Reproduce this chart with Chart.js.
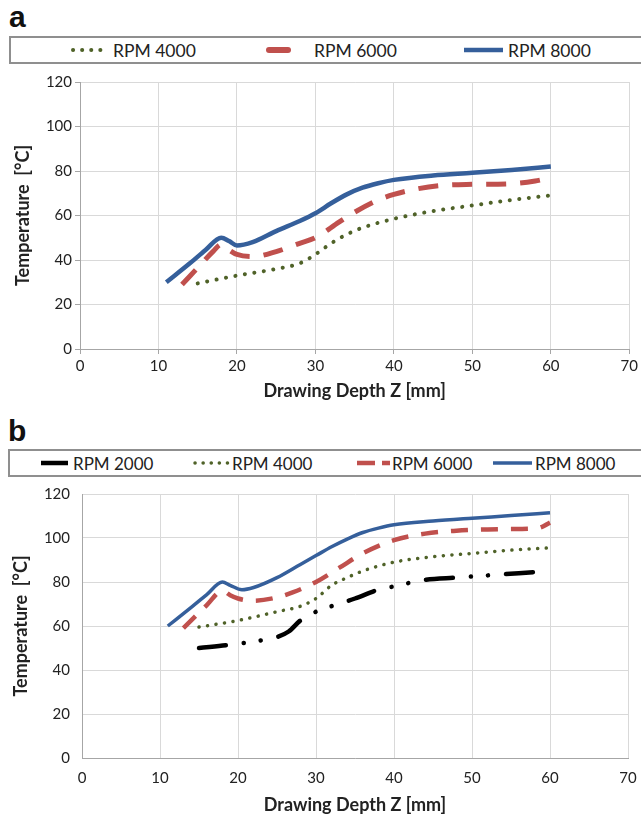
<!DOCTYPE html>
<html>
<head>
<meta charset="utf-8">
<script src="https://cdn.jsdelivr.net/npm/chart.js@4/dist/chart.umd.min.js"></script>
<style>
  html, body { margin: 0; padding: 0; background: #fff; }
  body { width: 641px; height: 817px; position: relative; overflow: hidden; font-family: Lato, sans-serif; }
  .panel-label { position: absolute; font: bold 30px "Liberation Sans", Arial, sans-serif; color: #111; }
  .legend { position: absolute; height: 28px; border: 2px solid #8f8f8f; box-sizing: border-box; width: 660px; }
  .item { position: absolute; top: 0; height: 100%; display: flex; align-items: center; color: #222; white-space: nowrap; }
  .wrap { position: absolute; left: 0; width: 641px; }
</style>
</head>
<body>
<div class="panel-label" style="left:9px; top:0px;">a</div>
<div class="legend" style="left:9px; top:36px; font-size:17.5px;">
  <div class="item" style="left:59px;"><svg width="38" height="8" style="margin-right:5px"><line x1="3" y1="4" x2="37" y2="4" stroke="#4f6228" stroke-width="4" stroke-linecap="round" stroke-dasharray="0.1 9"/></svg>RPM 4000</div>
  <div class="item" style="left:255px;"><svg width="43" height="8" style="margin-right:5px"><line x1="3" y1="4" x2="22" y2="4" stroke="#c0504d" stroke-width="6" stroke-linecap="round"/></svg>RPM 6000</div>
  <div class="item" style="left:452px;"><svg width="40" height="8" style="margin-right:5px"><line x1="1" y1="4" x2="40" y2="4" stroke="#355f9b" stroke-width="4.5"/></svg>RPM 8000</div>
</div>
<div class="wrap" style="top:70px; height:333px;"><canvas id="chartA"></canvas></div>

<div class="panel-label" style="left:8px; top:414px;">b</div>
<div class="legend" style="left:8px; top:449px; font-size:17px;">
  <div class="item" style="left:30px;"><svg width="29" height="8" style="margin-right:4px"><line x1="1" y1="4" x2="28" y2="4" stroke="#000" stroke-width="4.5"/></svg>RPM 2000</div>
  <div class="item" style="left:182px;"><svg width="38" height="8" style="margin-right:2px"><line x1="3" y1="4" x2="37" y2="4" stroke="#4f6228" stroke-width="3.5" stroke-linecap="round" stroke-dasharray="0.1 8"/></svg>RPM 4000</div>
  <div class="item" style="left:347px;"><svg width="33" height="8" style="margin-right:2px"><line x1="0" y1="4" x2="33" y2="4" stroke="#c0504d" stroke-width="4.5" stroke-dasharray="18 7"/></svg>RPM 6000</div>
  <div class="item" style="left:482px;"><svg width="40" height="8" style="margin-right:3px"><line x1="1" y1="4" x2="40" y2="4" stroke="#355f9b" stroke-width="3.5"/></svg>RPM 8000</div>
</div>
<div class="wrap" style="top:482px; height:335px;"><canvas id="chartB"></canvas></div>

<script>
// chart a values
const depthA4000 = [15, 20, 25, 28, 30, 32, 34, 36, 40, 45, 50, 55, 60];
const tempA4000 = [29.5, 33, 36, 38.5, 42.5, 47.5, 51.5, 54.5, 58.5, 62, 64.5, 67, 69];
const depthA6000 = [13, 15, 17, 18, 19, 20, 22, 25, 28, 30, 33, 35, 38, 40, 43, 46, 50, 55, 58, 60];
const tempA6000 = [29, 36.5, 44, 47, 44.5, 42.5, 41.5, 43.8, 47.5, 50, 57, 61.5, 67, 69.5, 72, 73.5, 74, 74.3, 75.5, 77];
const depthA8000 = [11, 14, 16, 18, 19, 20, 22, 25, 28, 30, 32, 34, 36, 38, 40, 45, 50, 55, 60];
const tempA8000 = [30, 38.5, 44.5, 50, 48.5, 46.5, 48, 53, 57.5, 61, 65.5, 69.5, 72.5, 74.5, 76, 78, 79.2, 80.5, 82];

// chart b values
const depthB2000 = [15, 19, 23, 25, 26.5, 28, 30, 32, 35, 38, 40, 44, 48, 52, 56, 60];
const tempB2000 = [50, 51.5, 53.5, 55, 57.5, 62.5, 66.5, 69, 72.5, 76.5, 78, 81, 82, 83, 84, 85];
const depthB4000 = [15, 20, 25, 28, 30, 32, 34, 36, 40, 45, 50, 55, 60];
const tempB4000 = [59.5, 62.5, 66.5, 69, 72.5, 78.5, 82, 85, 89, 91.5, 93, 94.5, 95.5];
const depthB6000 = [13, 16, 18, 19, 20, 22, 25, 27, 30, 33, 36, 40, 44, 48, 52, 56, 58.5, 60];
const tempB6000 = [59, 69.5, 76, 74, 72.5, 71.5, 73, 75.3, 80, 86.5, 93, 99, 102, 103.3, 103.9, 104.1, 104.5, 107];
const depthB8000 = [11, 14, 16, 18, 19, 20.5, 22, 25, 28, 30, 32, 34, 36, 38, 40, 45, 50, 55, 60];
const tempB8000 = [60, 68.5, 74.3, 80, 78.5, 76.5, 77.5, 82, 88, 92, 96, 99.5, 102.5, 104.5, 106, 107.7, 109, 110.2, 111.5];

const xTicks = [0, 10, 20, 30, 40, 50, 60, 70];
const yTicks = [0, 20, 40, 60, 80, 100, 120];

const GREEN = '#4f6228';
const RED = '#c0504d';
const BLUE = '#355f9b';
const GRID = '#d9d9d9';
const AXIS = '#a6a6a6';

function points(xs, ys) {
  return xs.map((x, i) => ({ x: x, y: ys[i] }));
}

function line(label, xs, ys, color, width, dash, cap) {
  return {
    label: label,
    data: points(xs, ys),
    borderColor: color,
    backgroundColor: color,
    borderWidth: width,
    borderDash: dash || [],
    borderCapStyle: cap || 'butt',
    pointRadius: 0,
    cubicInterpolationMode: 'monotone',
    fill: false
  };
}

// tickColor lets chart b keep the label gap without visible tick marks
function makeOptions(cfg) {
  return {
    responsive: true,
    maintainAspectRatio: false,
    animation: false,
    events: [],
    layout: { padding: { top: cfg.padTop, right: cfg.padRight, bottom: 0, left: 0 } },
    plugins: { legend: { display: false }, tooltip: { enabled: false } },
    scales: {
      x: {
        type: 'linear',
        min: xTicks[0],
        max: xTicks[xTicks.length - 1],
        afterBuildTicks: s => { s.ticks = xTicks.map(v => ({ value: v })); },
        afterFit: s => { s.height = cfg.xHeight; },
        grid: { color: GRID, tickColor: cfg.tickColor, tickLength: cfg.xTickLen },
        border: { color: AXIS, width: 1 },
        ticks: { color: '#222', font: { family: 'Lato', size: 15 }, padding: cfg.xTickPad, maxRotation: 0 },
        title: {
          display: true,
          text: 'Drawing Depth Z [mm]',
          color: '#222',
          font: { family: 'Lato', size: 18, weight: 'bold' },
          padding: { top: 0, bottom: cfg.xTitlePad }
        }
      },
      y: {
        min: yTicks[0],
        max: yTicks[yTicks.length - 1],
        afterBuildTicks: s => { s.ticks = yTicks.map(v => ({ value: v })); },
        afterFit: s => { s.width = cfg.yWidth; },
        grid: { color: GRID, tickColor: cfg.tickColor, tickLength: cfg.yTickLen },
        border: { color: AXIS, width: 1 },
        ticks: { color: '#222', font: { family: 'Lato', size: 15 }, padding: 3 },
        title: {
          display: true,
          text: 'Temperature  [°C]',
          color: '#222',
          font: { family: 'Lato', size: 18, weight: 'bold' },
          padding: { top: cfg.yTitlePad, bottom: 0 }
        }
      }
    }
  };
}

new Chart(document.getElementById('chartA'), {
  type: 'line',
  data: {
    datasets: [
      line('RPM 4000', depthA4000, tempA4000, GREEN, 4, [0.1, 9.5], 'round'),
      line('RPM 6000', depthA6000, tempA6000, RED, 5, [20, 14]),
      line('RPM 8000', depthA8000, tempA8000, BLUE, 4.5)
    ]
  },
  options: makeOptions({ padTop: 10, padRight: 7, xHeight: 54, yWidth: 80, tickColor: AXIS, xTickLen: 5, yTickLen: 5, xTickPad: 3, xTitlePad: 1, yTitlePad: 12 })
});

new Chart(document.getElementById('chartB'), {
  type: 'line',
  data: {
    datasets: [
      line('RPM 2000', depthB2000, tempB2000, '#000', 4.5, [27, 18, 0.1, 17, 0.1, 18], 'round'),
      line('RPM 4000', depthB4000, tempB4000, GREEN, 3.5, [0.1, 8.5], 'round'),
      line('RPM 6000', depthB6000, tempB6000, RED, 4.5, [17, 13]),
      line('RPM 8000', depthB8000, tempB8000, BLUE, 3.5)
    ]
  },
  options: makeOptions({ padTop: 12, padRight: 13, xHeight: 59, yWidth: 82, tickColor: 'rgba(0,0,0,0)', xTickLen: 9, yTickLen: 9, xTickPad: 2, xTitlePad: 1, yTitlePad: 10 })
});
</script>
</body>
</html>
